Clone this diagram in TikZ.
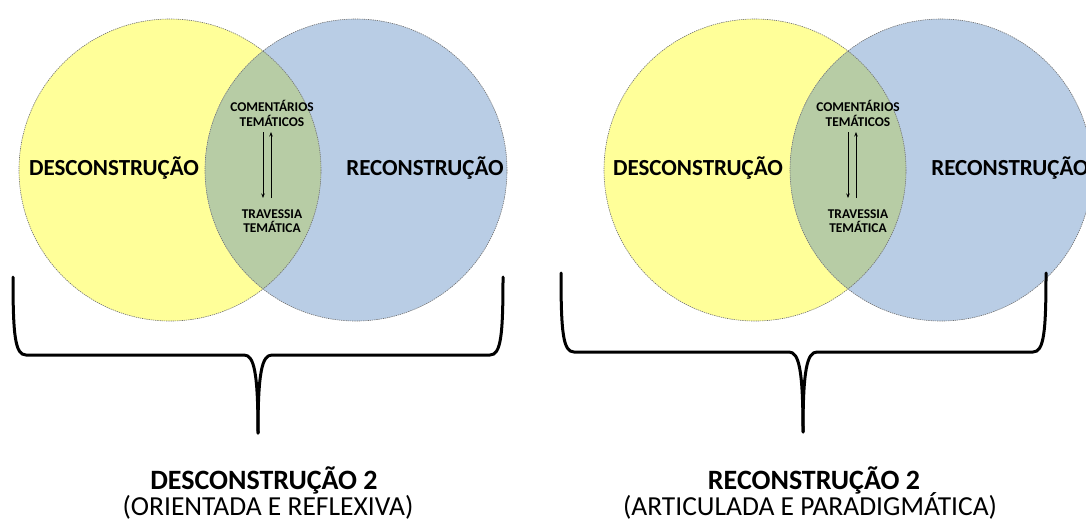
\documentclass[tikz,border=0pt]{standalone}
\usepackage{fontspec}
\setmainfont{Carlito}
\usetikzlibrary{calc,arrows.meta}
\definecolor{vyellow}{HTML}{FFFF99}
\definecolor{vblue}{HTML}{B9CDE5}
\definecolor{vgreen}{HTML}{B7CCA5}
\definecolor{vedge}{HTML}{707070}
\newcommand\myvenn[5]{%
  % #1 yellow cx, #2 blue cx, #3 prefix, #4 big-label left x, #5 big-label right x
  \fill[vyellow] (#1,170) circle[radius=151];
  \fill[vblue] (#2,170) circle[radius=151];
  \begin{scope}
    \clip (#1,170) circle[radius=151];
    \fill[vgreen] (#2,170) circle[radius=151];
  \end{scope}
  \draw[vedgeline] (#1,170) circle[radius=151];
  \draw[vedgeline] (#2,170) circle[radius=151];
  \node[biglabel] (#3des) at (#4,175) {DESCONSTRUÇÃO};
  \node[biglabel] (#3rec) at (#5,175) {RECONSTRUÇÃO};
}
\begin{document}
\begin{tikzpicture}[x=1pt,y=-1pt,
  vedgeline/.style={draw=vedge,line width=0.6pt,dash pattern=on 1.3pt off 0.9pt},
  biglabel/.style={anchor=base,inner sep=0pt,font=\fontsize{23}{26}\selectfont\bfseries},
  smalllabel/.style={anchor=base,inner sep=0pt,font=\fontsize{13.4}{15}\selectfont\bfseries},
  bottomb/.style={anchor=base,inner sep=0pt,font=\fontsize{28}{32}\selectfont\bfseries},
  bottomr/.style={anchor=base,inner sep=0pt,font=\fontsize{27.5}{32}\selectfont},
  bracestroke/.style={line width=3pt,line cap=round,line join=round},
  thinarrow/.style={line width=0.9pt,-{Stealth[length=4.5pt,width=3.5pt]}}]
\useasboundingbox (0,0) rectangle (1086,528);
\clip (0,0) rectangle (1086,528);

% ---------- left diagram ----------
\myvenn{170}{356}{a}{114}{425}
\node[smalllabel] (acm1) at (272,111) {COMENTÁRIOS};
\node[smalllabel] (acm2) at (272,126) {TEMÁTICOS};
\node[smalllabel] (atv1) at (272,218) {TRAVESSIA};
\node[smalllabel] (atv2) at (272,232) {TEMÁTICA};
\draw[thinarrow] ($(acm2.base)+(-9,6)$) -- ($(atv1.base)+(-9,-20)$);
\draw[thinarrow] ($(atv1.base)+(-1,-20)$) -- ($(acm2.base)+(-1,6)$);

% ---------- right diagram ----------
\myvenn{755}{941}{b}{698}{1010}
\node[smalllabel] (bcm1) at (858,111) {COMENTÁRIOS};
\node[smalllabel] (bcm2) at (858,126) {TEMÁTICOS};
\node[smalllabel] (btv1) at (858,218) {TRAVESSIA};
\node[smalllabel] (btv2) at (858,232) {TEMÁTICA};
\draw[thinarrow] ($(bcm2.base)+(-10,6)$) -- ($(btv1.base)+(-10,-20)$);
\draw[thinarrow] ($(btv1.base)+(-2,-20)$) -- ($(bcm2.base)+(-2,6)$);

% ---------- braces ----------
\draw[bracestroke] (13,277) .. controls (13,335) and (15,355) .. (26,355) -- (244,355)
  .. controls (254,355) and (258,372) .. (258,433);
\draw[bracestroke] (503,277) .. controls (503,335) and (501,355) .. (490,355) -- (272,355)
  .. controls (262,355) and (258,372) .. (258,433);
\draw[bracestroke] (561,273) .. controls (561,332) and (563,352) .. (574,352) -- (789,352)
  .. controls (799,352) and (803,370) .. (803,432);
\draw[bracestroke] (1046,273) .. controls (1046,332) and (1044,352) .. (1033,352) -- (817,352)
  .. controls (807,352) and (803,370) .. (803,432);

% ---------- bottom captions ----------
\node[bottomb] (capa1) at (264,489) {DESCONSTRUÇÃO 2};
\node[bottomr] (capa2) at (268,515) {(ORIENTADA E REFLEXIVA)};
\node[bottomb] (capb1) at (814,489) {RECONSTRUÇÃO 2};
\node[bottomr] (capb2) at (810,515) {(ARTICULADA E PARADIGMÁTICA)};
\end{tikzpicture}
\end{document}
